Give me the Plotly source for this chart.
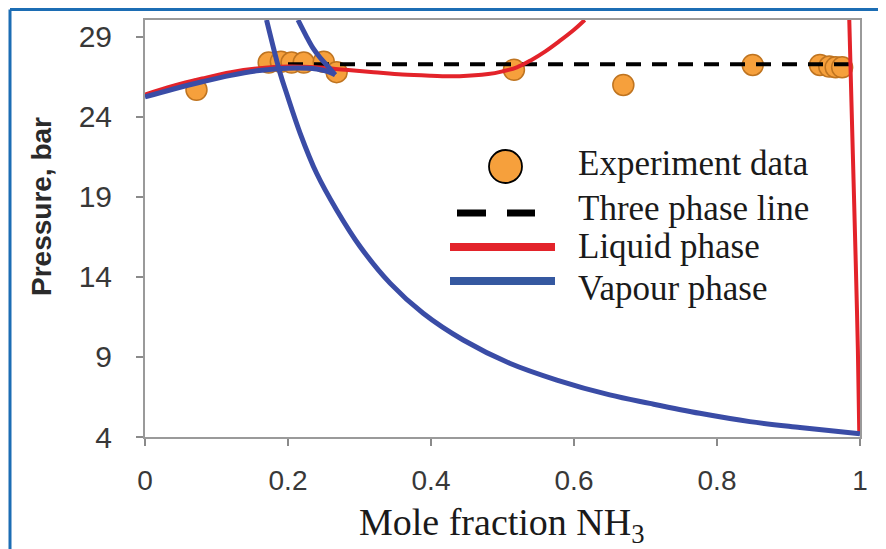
import plotly.graph_objects as go

# ---------------- data ----------------
exp_x = [0.072, 0.173, 0.19, 0.205, 0.222, 0.25, 0.268, 0.516, 0.669, 0.85, 0.944, 0.957, 0.966, 0.975]
exp_p = [25.7, 27.4, 27.45, 27.4, 27.4, 27.45, 26.8, 26.95, 26.0, 27.25, 27.25, 27.15, 27.1, 27.1]

three_x = [0.2, 0.99]
three_p = [27.3, 27.3]

liq_left_x = [0, 0.04, 0.08, 0.12, 0.16, 0.2, 0.24, 0.28, 0.32, 0.36, 0.4, 0.44, 0.48,
              0.5, 0.52, 0.54, 0.56, 0.58, 0.6, 0.615]
liq_left_p = [25.4, 25.95, 26.4, 26.8, 27.05, 27.15, 27.1, 26.95, 26.8, 26.65, 26.58, 26.55, 26.68,
              26.85, 27.1, 27.55, 28.1, 28.75, 29.45, 30.06]
liq_right_x = [0.985, 0.988, 0.991, 0.994, 0.997, 0.999]
liq_right_p = [30.06, 25.0, 20.0, 15.0, 9.5, 4.2]

vap_left_x = [0, 0.04, 0.08, 0.12, 0.16, 0.2, 0.24, 0.255, 0.266]
vap_left_p = [25.25, 25.75, 26.2, 26.6, 26.9, 27.05, 27.0, 26.85, 26.63]
vap_mid_x = [0.214, 0.225, 0.235, 0.245, 0.254, 0.266]
vap_mid_p = [30.06, 29.1, 28.3, 27.7, 27.25, 26.63]
vap_main_x = [0.170, 0.189, 0.198, 0.217, 0.240, 0.268, 0.301, 0.343, 0.389, 0.445, 0.510,
              0.576, 0.650, 0.706, 0.776, 0.846, 0.916, 0.963, 1.0]
vap_main_p = [30.06, 26.73, 25.48, 22.98, 20.48, 18.19, 15.89, 13.6, 11.73, 10.06, 8.61,
              7.56, 6.63, 6.1, 5.48, 4.96, 4.6, 4.38, 4.2]

y_ticks = [4, 9, 14, 19, 24, 29]
x_ticks = [0, 0.2, 0.4, 0.6, 0.8, 1]
x_tick_text = ["0", "0.2", "0.4", "0.6", "0.8", "1"]

legend_labels = ["Experiment data", "Three phase line", "Liquid phase", "Vapour phase"]

# ---------------- styles ----------------
RED = "#e3232a"
BLUE = "#3a4ca6"
ORANGE = "#f6a03c"
ORANGE_EDGE = "#bf7420"
FRAME_BLUE = "#1c6db4"

OFF = 8  # page body margin
W, H = 886 - OFF, 549 - OFF
PLOT_L, PLOT_R, PLOT_T, PLOT_B = 145, 860, 20, 437  # in reference-picture pixels
L, R, T, B = PLOT_L - OFF, (886 - PLOT_R), PLOT_T - OFF, (549 - PLOT_B)
PW, PH = PLOT_R - PLOT_L, PLOT_B - PLOT_T


def px(xp):
    return (xp - PLOT_L) / PW


def py(yp):
    return (PLOT_B - yp) / PH


fig = go.Figure()

fig.add_trace(go.Scatter(x=exp_x, y=exp_p, mode="markers", name=legend_labels[0],
                         marker=dict(size=21, color=ORANGE, line=dict(color=ORANGE_EDGE, width=1.5)),
                         showlegend=False))
fig.add_trace(go.Scatter(x=three_x, y=three_p, mode="lines", name=legend_labels[1],
                         line=dict(color="black", width=4, dash="15px,11px"), showlegend=False))
fig.add_trace(go.Scatter(x=liq_left_x + [None] + liq_right_x,
                         y=liq_left_p + [None] + liq_right_p,
                         mode="lines", name=legend_labels[2], line=dict(color=RED, width=4, shape="spline"),
                         showlegend=False))
fig.add_trace(go.Scatter(x=vap_left_x + [None] + vap_mid_x + [None] + vap_main_x,
                         y=vap_left_p + [None] + vap_mid_p + [None] + vap_main_p,
                         mode="lines", name=legend_labels[3], line=dict(color=BLUE, width=5, shape="spline"),
                         showlegend=False))

axis_common = dict(showline=True, linecolor="#9a9a9a", linewidth=2, mirror=True,
                   ticks="outside", tickcolor="#8a8a8a", ticklen=7, tickwidth=1.5,
                   showgrid=False, zeroline=False)

fig.update_layout(
    width=W, height=H,
    margin=dict(l=L, r=R, t=T, b=B, autoexpand=False),
    paper_bgcolor="white", plot_bgcolor="white",
    showlegend=False,
    xaxis=dict(range=[0, 1], tickvals=x_ticks, ticktext=x_tick_text, ticklabelstandoff=10,
               tickfont=dict(family="Liberation Sans, Arial", size=28, color="#383838"), **axis_common),
    yaxis=dict(range=[4, 30.06], tickvals=y_ticks, ticklabelstandoff=18,
               tickfont=dict(family="Liberation Sans, Arial", size=30, color="#383838"), **axis_common),
)

# axis titles
annos = [
    dict(text="Mole fraction NH<sub>3</sub>", x=px(502), y=py(525), xref="paper", yref="paper",
         showarrow=False, font=dict(family="Liberation Serif, Times New Roman", size=38, color="#1a1a1a"),
         xanchor="center", yanchor="middle"),
    dict(text="<b>Pressure, bar</b>", x=px(41), y=py(207), xref="paper", yref="paper",
         showarrow=False, textangle=-90,
         font=dict(family="Liberation Sans, Arial", size=28, color="#2a2a2a"),
         xanchor="center", yanchor="middle"),
]
legend_y = [164, 209, 247, 288]
for lab, yy in zip(legend_labels, legend_y):
    annos.append(dict(text=lab, x=px(576), y=py(yy), xref="paper", yref="paper", showarrow=False,
                      xanchor="left", yanchor="middle",
                      font=dict(family="Liberation Serif, Times New Roman", size=35, color="#1a1a1a")))
fig.update_layout(annotations=annos)

shapes = []
# legend glyphs
shapes.append(dict(type="circle", xref="paper", yref="paper",
                   x0=px(489), x1=px(522), y0=py(183), y1=py(150),
                   fillcolor=ORANGE, line=dict(color="black", width=1.8)))
for x0, x1 in [(457, 486), (507, 535)]:
    shapes.append(dict(type="line", xref="paper", yref="paper", x0=px(x0), x1=px(x1),
                       y0=py(213), y1=py(213), line=dict(color="black", width=7)))
shapes.append(dict(type="line", xref="paper", yref="paper", x0=px(450), x1=px(555),
                   y0=py(247), y1=py(247), line=dict(color=RED, width=8)))
shapes.append(dict(type="line", xref="paper", yref="paper", x0=px(450), x1=px(555),
                   y0=py(281), y1=py(281), line=dict(color="#3558a0", width=8)))
# outer blue frame
for (x0, y0, x1, y1) in [(10, 9.5, 10, 549), (10, 9.5, 883, 9.5), (883, 9.5, 883, 549)]:
    shapes.append(dict(type="line", xref="paper", yref="paper", x0=px(x0), x1=px(x1),
                       y0=py(y0), y1=py(y1), line=dict(color=FRAME_BLUE, width=3)))
fig.update_layout(shapes=shapes)

fig.write_html("out.html")
